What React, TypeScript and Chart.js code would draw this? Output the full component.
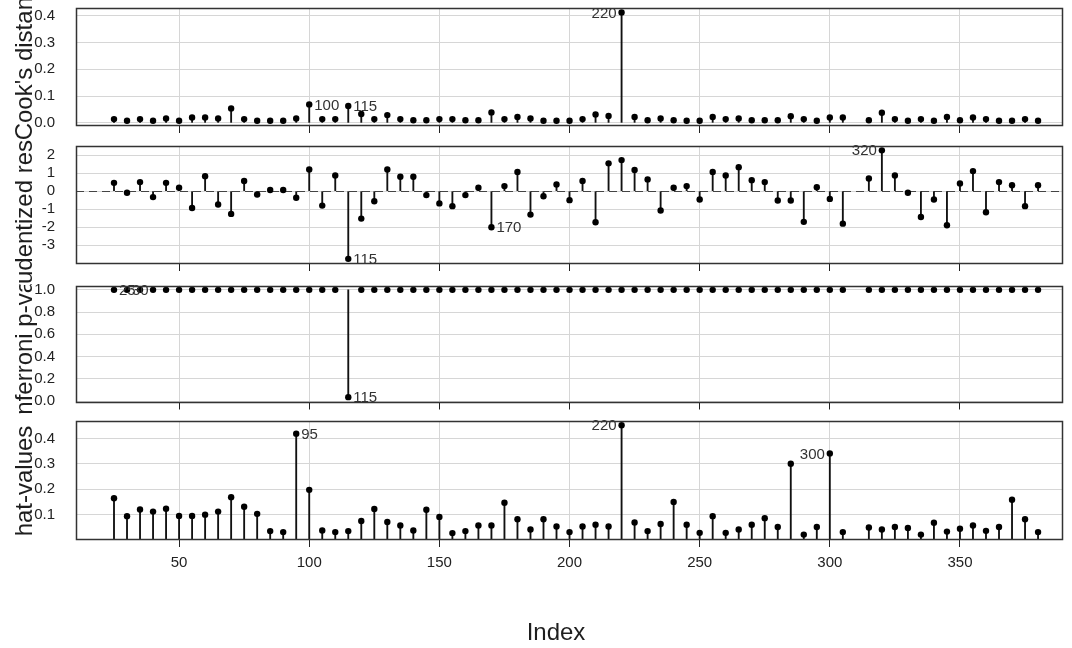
import React, { useEffect, useRef } from "react";
import { Chart, registerables } from "chart.js";
Chart.register(...registerables);

const FONT = "'Liberation Sans', Arial, Helvetica, sans-serif";
Chart.defaults.font.family = FONT;

// ---------------- data ----------------
const obsIndex = [
  25, 30, 35, 40, 45, 50, 55, 60, 65, 70,
  75, 80, 85, 90, 95, 100, 105, 110, 115, 120,
  125, 130, 135, 140, 145, 150, 155, 160, 165, 170,
  175, 180, 185, 190, 195, 200, 205, 210, 215, 220,
  225, 230, 235, 240, 245, 250, 255, 260, 265, 270,
  275, 280, 285, 290, 295, 300, 305,
  315, 320, 325, 330, 335, 340, 345, 350, 355, 360, 365, 370, 375, 380,
];

const cooksD = [
  0.014, 0.008, 0.014, 0.008, 0.016, 0.008, 0.02, 0.02, 0.016, 0.054,
  0.014, 0.008, 0.008, 0.008, 0.016, 0.069, 0.014, 0.014, 0.063, 0.033,
  0.014, 0.029, 0.014, 0.01, 0.01, 0.014, 0.014, 0.01, 0.01, 0.039,
  0.014, 0.022, 0.016, 0.008, 0.008, 0.008, 0.014, 0.031, 0.026, 0.4125,
  0.022, 0.01, 0.016, 0.01, 0.008, 0.008, 0.022, 0.014, 0.016, 0.01,
  0.01, 0.01, 0.025, 0.014, 0.008, 0.02, 0.02,
  0.01, 0.038, 0.014, 0.008, 0.014, 0.008, 0.022, 0.01, 0.02, 0.014, 0.008, 0.008, 0.014, 0.008,
];

const studRes = [
  0.46, -0.09, 0.5, -0.33, 0.46, 0.19, -0.93, 0.83, -0.74, -1.26,
  0.56, -0.19, 0.06, 0.06, -0.37, 1.2, -0.8, 0.87, -3.75, -1.52,
  -0.56, 1.2, 0.8, 0.8, -0.22, -0.68, -0.83, -0.22, 0.19, -2.0,
  0.28, 1.06, -1.3, -0.28, 0.37, -0.5, 0.56, -1.72, 1.54, 1.72,
  1.17, 0.65, -1.07, 0.19, 0.28, -0.46, 1.06, 0.87, 1.33, 0.61,
  0.5, -0.52, -0.52, -1.7, 0.22, -0.43, -1.8,
  0.7, 2.26, 0.87, -0.09, -1.43, -0.46, -1.89, 0.43, 1.11, -1.17, 0.5, 0.33, -0.83, 0.33,
];

const bonfP = [
  1, 1, 1, 1, 1, 1, 1, 1, 1, 1,
  1, 1, 1, 1, 1, 1, 1, 1, 0.035, 1,
  1, 1, 1, 1, 1, 1, 1, 1, 1, 1,
  1, 1, 1, 1, 1, 1, 1, 1, 1, 1,
  1, 1, 1, 1, 1, 1, 1, 1, 1, 1,
  1, 1, 1, 1, 1, 1, 1,
  1, 1, 1, 1, 1, 1, 1, 1, 1, 1, 1, 1, 1, 1,
];

const hatValues = [
  0.164, 0.093, 0.119, 0.111, 0.122, 0.094, 0.094, 0.099, 0.111, 0.168,
  0.13, 0.102, 0.034, 0.03, 0.419, 0.197, 0.036, 0.03, 0.034, 0.074,
  0.121, 0.07, 0.056, 0.036, 0.118, 0.09, 0.026, 0.034, 0.056, 0.056,
  0.146, 0.081, 0.04, 0.081, 0.052, 0.03, 0.052, 0.059, 0.052, 0.452,
  0.068, 0.034, 0.062, 0.149, 0.059, 0.027, 0.093, 0.027, 0.04, 0.059,
  0.085, 0.05, 0.3, 0.02, 0.05, 0.341, 0.03,
  0.048, 0.04, 0.05, 0.046, 0.02, 0.067, 0.032, 0.043, 0.056, 0.035, 0.05, 0.158, 0.081, 0.03,
];

const xTickValues = [50, 100, 150, 200, 250, 300, 350];
const cookTicks = [0, 0.1, 0.2, 0.3, 0.4];
const studTicks = [-3, -2, -1, 0, 1, 2];
const bonfTicks = [0, 0.2, 0.4, 0.6, 0.8, 1.0];
const hatTicks = [0.1, 0.2, 0.3, 0.4];

const cookLabels = [
  { at: 220, text: "220", side: "left" },
  { at: 100, text: "100", side: "right" },
  { at: 115, text: "115", side: "right" },
];
const studLabels = [
  { at: 320, text: "320", side: "left" },
  { at: 115, text: "115", side: "right" },
  { at: 170, text: "170", side: "right" },
];
const bonfLabels = [
  { at: 115, text: "115", side: "right" },
  { at: 25, text: "25", side: "right" },
  { at: 30, text: "30", side: "right" },
];
const hatLabels = [
  { at: 95, text: "95", side: "right" },
  { at: 220, text: "220", side: "left" },
  { at: 300, text: "300", side: "left" },
];

const yTitles = ["Cook's distance", "Studentized residuals", "Bonferroni p-value", "hat-values"];
const xTitle = "Index";

// ---------------- layout ----------------
const W = 1072;
const H = 648;
const X_MIN = 10.4;
const X_MAX = 389.2;
const GRID = "#d6d6d6";
const INK = "#1e1e1e";

interface PanelSpec {
  key: string;
  values: number[];
  base: number;
  yMin: number;
  yMax: number;
  yTicks: number[];
  fmt: (v: number) => string;
  labels: { at: number; text: string; side: string }[];
  title: string;
  areaTop: number;
  areaH: number;
  clipTop: number;
  clipBottom: number;
  titleCenter: number;
  showX: boolean;
  zeroDash: boolean;
}

const panels: PanelSpec[] = [
  { key: "cook", values: cooksD, base: 0, yMin: -0.008, yMax: 0.429, yTicks: cookTicks,
    fmt: (v) => v.toFixed(1), labels: cookLabels, title: yTitles[0],
    areaTop: 8, areaH: 117, clipTop: 0, clipBottom: 140, titleCenter: 56,
    showX: false, zeroDash: false },
  { key: "stud", values: studRes, base: 0, yMin: -3.98, yMax: 2.5, yTicks: studTicks,
    fmt: (v) => String(Math.round(v)), labels: studLabels, title: yTitles[1],
    areaTop: 146, areaH: 117, clipTop: 140, clipBottom: 285, titleCenter: 192,
    showX: false, zeroDash: true },
  { key: "bonf", values: bonfP, base: 1, yMin: -0.004, yMax: 1.039, yTicks: bonfTicks,
    fmt: (v) => v.toFixed(1), labels: bonfLabels, title: yTitles[2],
    areaTop: 285.5, areaH: 116, clipTop: 285, clipBottom: 415, titleCenter: 346,
    showX: false, zeroDash: false },
  { key: "hat", values: hatValues, base: 0, yMin: 0.0027, yMax: 0.469, yTicks: hatTicks,
    fmt: (v) => v.toFixed(1), labels: hatLabels, title: yTitles[3],
    areaTop: 421, areaH: 118, clipTop: 415, clipBottom: 552, titleCenter: 481,
    showX: true, zeroDash: false },
];

function makeDeco(spec: PanelSpec) {
  return {
    id: "deco_" + spec.key,
    beforeDatasetsDraw(chart: any) {
      if (!spec.zeroDash) return;
      const { ctx, chartArea: a } = chart;
      const py = Math.round(chart.scales.y.getPixelForValue(0)) + 0.5;
      ctx.save();
      ctx.strokeStyle = "#444";
      ctx.lineWidth = 1;
      ctx.setLineDash([8, 5]);
      ctx.beginPath();
      ctx.moveTo(a.left, py);
      ctx.lineTo(a.right, py);
      ctx.stroke();
      ctx.restore();
    },
    afterDatasetsDraw(chart: any) {
      const { ctx, chartArea: a } = chart;
      const xs = chart.scales.x;
      const ys = chart.scales.y;
      ctx.save();
      ctx.font = `15px ${FONT}`;
      ctx.fillStyle = "#333";
      ctx.textBaseline = "middle";
      for (const l of spec.labels) {
        const i = obsIndex.indexOf(l.at);
        if (i < 0) continue;
        const px = xs.getPixelForValue(l.at);
        const py = ys.getPixelForValue(spec.values[i]);
        if (l.side === "left") {
          ctx.textAlign = "right";
          ctx.fillText(l.text, px - 5, py + 1);
        } else {
          ctx.textAlign = "left";
          ctx.fillText(l.text, px + 5, py + 1);
        }
      }
      ctx.restore();
      ctx.save();
      ctx.strokeStyle = "#333";
      ctx.lineWidth = 1.5;
      ctx.strokeRect(Math.round(a.left) + 0.5, Math.round(a.top) + 0.5,
        Math.round(a.right - a.left), Math.round(a.bottom - a.top));
      ctx.restore();
    },
    afterDraw(chart: any) {
      const { ctx } = chart;
      ctx.save();
      ctx.beginPath();
      ctx.rect(0, spec.clipTop, W, spec.clipBottom - spec.clipTop);
      ctx.clip();
      ctx.translate(32, spec.titleCenter);
      ctx.rotate(-Math.PI / 2);
      ctx.font = `24px ${FONT}`;
      ctx.fillStyle = INK;
      ctx.textAlign = "center";
      ctx.textBaseline = "alphabetic";
      ctx.fillText(spec.title, 0, 0);
      ctx.restore();
      if (spec.showX) {
        ctx.save();
        ctx.font = `24px ${FONT}`;
        ctx.fillStyle = INK;
        ctx.textAlign = "center";
        ctx.textBaseline = "middle";
        ctx.fillText(xTitle, 556, 633);
        ctx.restore();
      }
    },
  };
}

function buildChart(canvas: HTMLCanvasElement, spec: PanelSpec) {
  const points = obsIndex.map((x, i) => ({ x, y: spec.values[i] }));
  const stems = obsIndex.map((x, i) => ({ x, y: [spec.base, spec.values[i]] }));
  const xAxisH = H - spec.areaTop - spec.areaH;
  return new Chart(canvas, {
    type: "scatter",
    data: {
      datasets: [
        {
          type: "scatter",
          data: points,
          pointRadius: 3.2,
          pointHoverRadius: 3.2,
          pointBackgroundColor: "#000",
          pointBorderColor: "#000",
          pointBorderWidth: 0,
          order: 0,
        } as any,
        {
          type: "bar",
          data: stems,
          backgroundColor: "#111",
          borderWidth: 0,
          barThickness: 1.2,
          grouped: false,
          order: 1,
        } as any,
      ],
    },
    options: {
      animation: false,
      responsive: false,
      maintainAspectRatio: false,
      events: [],
      layout: { padding: { top: spec.areaTop, right: 10, left: 0, bottom: 0 } },
      plugins: { legend: { display: false }, tooltip: { enabled: false } },
      scales: {
        x: {
          type: "linear",
          min: X_MIN,
          max: X_MAX,
          offset: false,
          afterBuildTicks: (s: any) => {
            s.ticks = xTickValues.map((v) => ({ value: v }));
          },
          afterFit: (s: any) => {
            s.height = xAxisH;
            s.paddingLeft = 0;
            s.paddingRight = 0;
          },
          grid: {
            color: GRID,
            lineWidth: 1,
            drawTicks: true,
            tickLength: 8,
            tickColor: "#222",
            tickWidth: 1,
            offset: false,
          },
          border: { display: false },
          ticks: {
            display: spec.showX,
            font: { size: 15, family: FONT },
            color: "#222",
            padding: 7,
            maxRotation: 0,
            autoSkip: false,
            callback: (v: any) => String(v),
          },
        } as any,
        y: {
          type: "linear",
          min: spec.yMin,
          max: spec.yMax,
          afterBuildTicks: (s: any) => {
            s.ticks = spec.yTicks.map((v) => ({ value: v }));
          },
          afterFit: (s: any) => {
            s.width = 76;
            s.paddingTop = 0;
            s.paddingBottom = 0;
          },
          grid: { color: GRID, lineWidth: 1, drawTicks: false },
          border: { display: false },
          ticks: {
            font: { size: 15, family: FONT },
            color: "#222",
            padding: 21,
            autoSkip: false,
            callback: (v: any) => spec.fmt(Number(v)),
          },
        } as any,
      },
    },
    plugins: [makeDeco(spec)],
  });
}

export default function App() {
  const refs = useRef<(HTMLCanvasElement | null)[]>([]);
  useEffect(() => {
    const charts = panels.map((p, i) => buildChart(refs.current[i] as HTMLCanvasElement, p));
    return () => charts.forEach((c) => c.destroy());
  }, []);
  return (
    <div style={{ position: "absolute", left: 0, top: 0, width: W, height: H, background: "#fff" }}>
      {panels.map((p, i) => (
        <canvas
          key={p.key}
          ref={(el) => {
            refs.current[i] = el;
          }}
          width={W}
          height={H}
          style={{ position: "absolute", left: 0, top: 0, width: W, height: H, display: "block" }}
        />
      ))}
    </div>
  );
}
